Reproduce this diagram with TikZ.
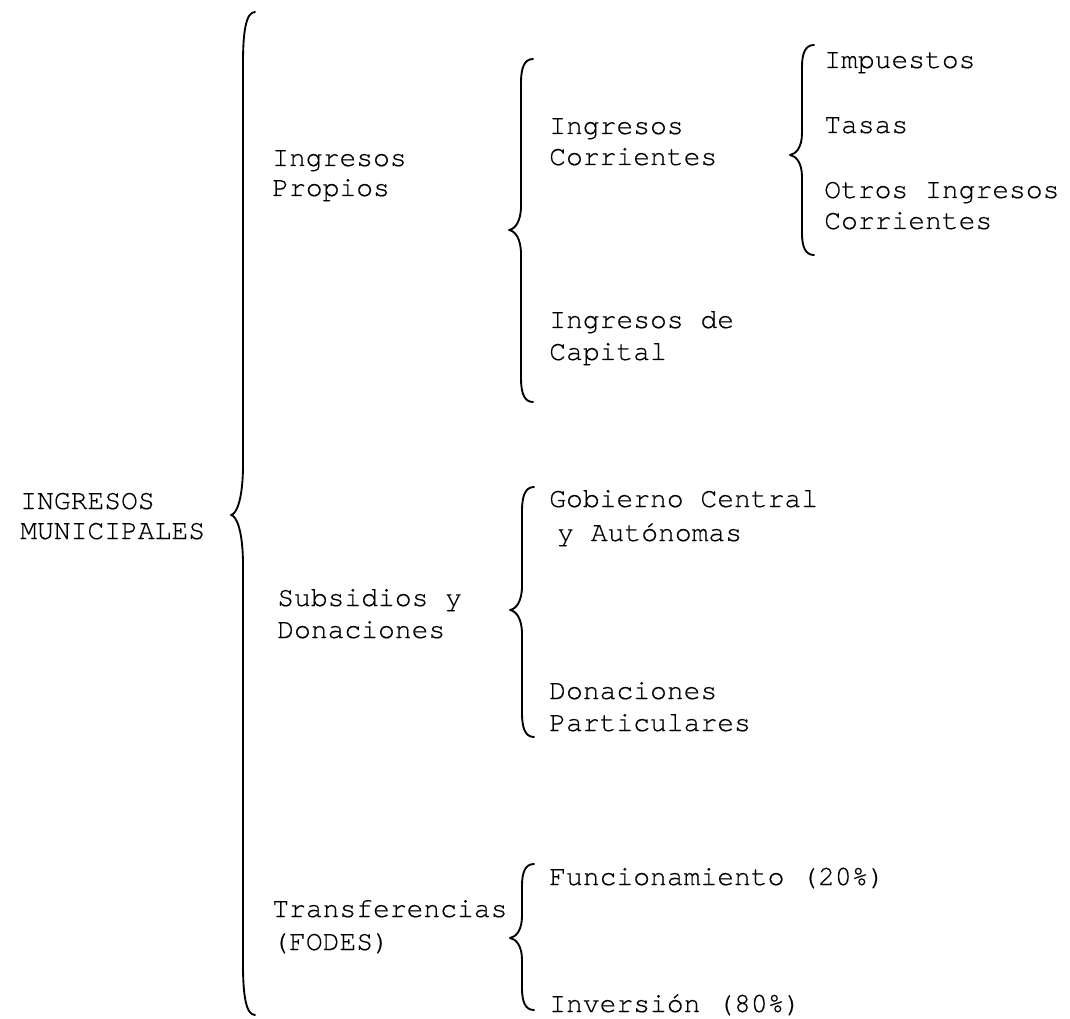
\documentclass[tikz,border=0pt]{standalone}
\usepackage{fontspec}
\setmainfont{TeX Gyre Cursor}
\newfontfamily\curfont[FakeBold=0.4]{TeX Gyre Cursor}
\newcommand\cbrace[5]{%
  \draw[br] ({#1+24},{#2}) .. controls ({#1+15},{#2}) and ({#1+12},{#2+0.4*#5}) .. ({#1+12},{#2+#5})
    -- ({#1+12},{#3-#5}) .. controls ({#1+12},{#3-0.35*#5}) and ({#1+6},{#3-1}) .. ({#1},{#3})
    .. controls ({#1+6},{#3+1}) and ({#1+12},{#3+0.35*#5}) .. ({#1+12},{#3+#5})
    -- ({#1+12},{#4-#5}) .. controls ({#1+12},{#4-0.4*#5}) and ({#1+15},{#4}) .. ({#1+24},{#4});}
\tikzset{
  lbl/.style={anchor=base west, inner sep=0pt, font=\curfont\fontsize{21pt}{23pt}\selectfont},
  br/.style={line width=1.4pt, line join=round, line cap=round}
}
\begin{document}
\begin{tikzpicture}[x=0.75pt,y=-0.75pt]
\useasboundingbox (0,0) rectangle (1070,1019);

\node[lbl] (im1) at (20,509) {INGRESOS};
\node[lbl] (im2) at (20,539) {MUNICIPALES};

\node[lbl] (ip1) at (272,166) {Ingresos};
\node[lbl] (ip2) at (272,196) {Propios};

\node[lbl] (ic1) at (549,134) {Ingresos};
\node[lbl] (ic2) at (549,165) {Corrientes};

\node[lbl] (imp) at (824,68) {Impuestos};
\node[lbl] (tas) at (824,133) {Tasas};
\node[lbl] (oi1) at (824,198) {Otros Ingresos};
\node[lbl] (oi2) at (824,229) {Corrientes};

\node[lbl] (cap1) at (549,328) {Ingresos de};
\node[lbl] (cap2) at (549,360) {Capital};

\node[lbl] (sd1) at (277,606) {Subsidios y};
\node[lbl] (sd2) at (277,638) {Donaciones};

\node[lbl] (gc1) at (549,507) {Gobierno Central};
\node[lbl] (gc2) at (557,541) {y Autónomas};

\node[lbl] (dp1) at (549,699) {Donaciones};
\node[lbl] (dp2) at (549,731) {Particulares};

\node[lbl] (tf1) at (272,917) {Transferencias};
\node[lbl] (tf2) at (272,950) {(FODES)};

\node[lbl] (fun) at (549,885) {Funcionamiento (20\%)};
\node[lbl] (inv) at (549,1012) {Inversión (80\%)};

\cbrace{231}{12}{515}{1015}{50}
\cbrace{509}{59}{230}{402}{24}
\cbrace{790}{45}{155}{255}{22}
\cbrace{510}{487}{610}{737}{24}
\cbrace{510}{864}{938}{1010}{22}
\end{tikzpicture}
\end{document}
